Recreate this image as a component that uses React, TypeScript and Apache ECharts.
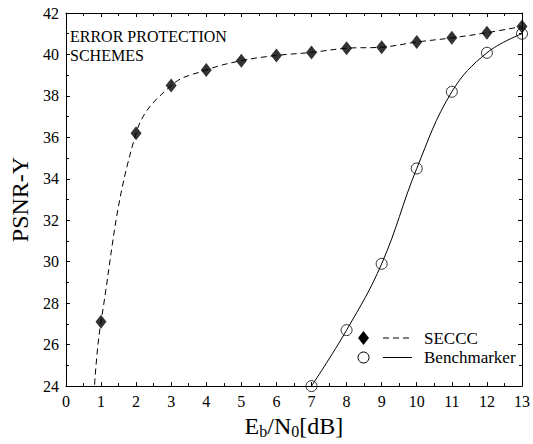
import React, { useEffect, useRef } from "react";
import * as echarts from "echarts";

const ebn0 = [1, 2, 3, 4, 5, 6, 7, 8, 9, 10, 11, 12, 13];
const secccPsnr = [27.1, 36.2, 38.5, 39.25, 39.7, 39.95, 40.1, 40.3, 40.35, 40.6, 40.8, 41.05, 41.35];
// where the dashed SECCC curve enters the plot from below
const secccLeadIn: [number, number] = [0.8, 23.6];
const benchEbn0 = [7, 8, 9, 10, 11, 12, 13];
const benchPsnr = [24.0, 26.7, 29.9, 34.5, 38.2, 40.08, 41.0];
const legendNames = ["SECCC", "Benchmarker"];
const noteLines = ["ERROR PROTECTION", "SCHEMES"];

const FONT = "'Liberation Serif', 'Times New Roman', serif";

export default function App() {
  const ref = useRef<HTMLDivElement>(null);
  useEffect(() => {
    if (!ref.current) return;
    const chart = echarts.init(ref.current, undefined, { renderer: "svg" });
    const secccPts = ebn0.map((x, i) => [x, secccPsnr[i]]);
    const benchPts = benchEbn0.map((x, i) => [x, benchPsnr[i]]);
    const axisCommon = {
      type: "value" as const,
      axisLine: { show: true, onZero: false, lineStyle: { color: "#000", width: 1 } },
      axisTick: { show: true, inside: true, length: 4, lineStyle: { color: "#000" } },
      minorTick: { show: true, splitNumber: 2, length: 3, lineStyle: { color: "#000" } },
      splitLine: { show: false },
      minorSplitLine: { show: false },
    };
    chart.setOption({
      animation: false,
      backgroundColor: "#fff",
      textStyle: { fontFamily: FONT },
      grid: { left: 58, right: 8, top: 13, bottom: 48 },
      xAxis: [
        {
          ...axisCommon,
          position: "bottom",
          min: 0,
          max: 13,
          interval: 1,
          axisLabel: { color: "#000", fontSize: 16, fontFamily: FONT, margin: 7 },
          name: "{n|E}{s|b}{n|/N}{s|0}{n|[dB]}",
          nameLocation: "middle",
          nameGap: 18,
          nameTextStyle: {
            color: "#000",
            fontFamily: FONT,
            rich: {
              n: { fontSize: 24, fontFamily: FONT, color: "#000", verticalAlign: "top", lineHeight: 26 },
              s: { fontSize: 16, fontFamily: FONT, color: "#000", verticalAlign: "top", lineHeight: 18, padding: [9, 0, 0, 0] },
            },
          },
        },
        {
          ...axisCommon,
          position: "top",
          min: 0,
          max: 13,
          interval: 1,
          axisLabel: { show: false },
        },
      ],
      yAxis: [
        {
          ...axisCommon,
          position: "left",
          min: 24,
          max: 42,
          interval: 2,
          axisLabel: { color: "#000", fontSize: 16, fontFamily: FONT, margin: 7 },
          name: "PSNR-Y",
          nameLocation: "middle",
          nameGap: 26,
          nameTextStyle: { color: "#000", fontSize: 24, fontFamily: FONT },
        },
        {
          ...axisCommon,
          position: "right",
          min: 24,
          max: 42,
          interval: 2,
          axisLabel: { show: false },
        },
      ],
      series: [
        {
          name: "SECCC curve",
          type: "line",
          data: [secccLeadIn, ...secccPts],
          smooth: 0.4,
          showSymbol: false,
          symbol: "none",
          clip: true,
          lineStyle: { color: "#000", width: 1, type: [6, 4] },
          z: 2,
        },
        {
          name: "Benchmarker curve",
          type: "line",
          data: benchPts,
          smooth: 0.4,
          showSymbol: false,
          symbol: "none",
          clip: true,
          lineStyle: { color: "#000", width: 1, type: "solid" },
          z: 2,
        },
        {
          name: legendNames[1],
          type: "scatter",
          data: benchPts,
          symbol: "circle",
          symbolSize: 11,
          itemStyle: { color: "transparent", borderColor: "#000", borderWidth: 1 },
          z: 3,
        },
        {
          name: legendNames[0],
          type: "scatter",
          data: secccPts,
          symbol: "diamond",
          symbolSize: [11, 14],
          itemStyle: { color: "#000" },
          z: 4,
        },
      ],
      graphic: [
        {
          type: "text",
          left: 70,
          top: 27,
          style: {
            text: noteLines.join("\n"),
            font: `16px ${FONT}`,
            fill: "#000",
            lineHeight: 19,
          },
        },
        {
          type: "polygon",
          shape: { points: [[363.5, 331], [369, 338], [363.5, 345], [358, 338]] },
          style: { fill: "#000" },
        },
        {
          type: "line",
          shape: { x1: 383, y1: 338, x2: 412, y2: 338 },
          style: { stroke: "#000", lineWidth: 1, lineDash: [6, 4] },
        },
        {
          type: "text",
          x: 424,
          y: 338,
          style: { text: legendNames[0], font: `17px ${FONT}`, fill: "#000", verticalAlign: "middle" },
        },
        {
          type: "circle",
          shape: { cx: 363.5, cy: 357.5, r: 5.5 },
          style: { fill: "transparent", stroke: "#000", lineWidth: 1 },
        },
        {
          type: "line",
          shape: { x1: 383, y1: 357.5, x2: 412, y2: 357.5 },
          style: { stroke: "#000", lineWidth: 1 },
        },
        {
          type: "text",
          x: 424,
          y: 357.5,
          style: { text: legendNames[1], font: `17px ${FONT}`, fill: "#000", verticalAlign: "middle" },
        },
      ],
    });
    return () => chart.dispose();
  }, []);
  return (
    <div
      ref={ref}
      style={{ position: "absolute", left: 0, top: 0, width: 533, height: 444 }}
    />
  );
}
